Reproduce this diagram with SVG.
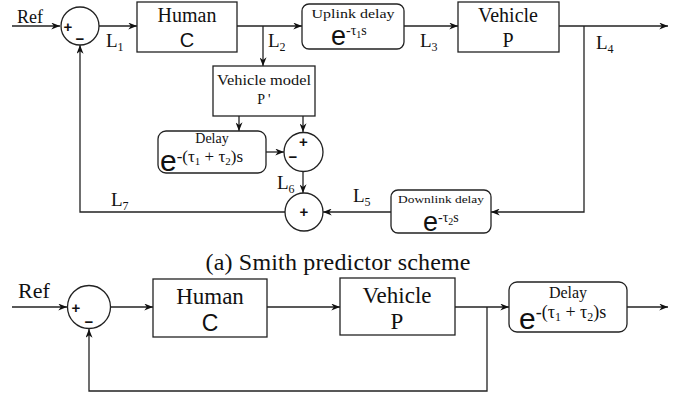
<svg xmlns="http://www.w3.org/2000/svg" width="686" height="396" viewBox="0 0 686 396">
<style>
.box{fill:#fff;stroke:#222;stroke-width:1.3}
.sum{fill:#fff;stroke:#222;stroke-width:1.3}
.ln{fill:none;stroke:#222;stroke-width:1.3;marker-end:url(#ah)}
.t{font-family:"Liberation Serif",serif;fill:#111}
.s{font-family:"Liberation Sans",sans-serif;fill:#111}
.sg{font-family:"Liberation Sans",sans-serif;font-weight:bold;font-size:15px;fill:#111;text-anchor:middle}
.lbl{font-family:"Liberation Serif",serif;font-size:19px;fill:#111}
.mid{text-anchor:middle}
</style>
<defs>
<marker id="ah" viewBox="0 0 10 8" refX="10" refY="4" markerWidth="9" markerHeight="7" markerUnits="userSpaceOnUse" orient="auto">
<path d="M0,0 L10,4 L0,8 L3,4 z" fill="#111"/>
</marker>
</defs>

<g id="connectors">
<path class="ln" d="M12,26 H60"/>
<path class="ln" d="M99,26 H137"/>
<path class="ln" d="M237,26 H302"/>
<path class="ln" d="M263,26 V66"/>
<path class="ln" d="M404,26 H458"/>
<path class="ln" d="M559,26 H668"/>
<path class="ln" d="M584,26 V212 H491"/>
<path class="ln" d="M391,212 H323"/>
<path class="ln" d="M285,212 H80 V45"/>
<path class="ln" d="M239,116 V131"/>
<path class="ln" d="M303,116 V132"/>
<path class="ln" d="M266,152 H284"/>
<path class="ln" d="M303,172 V193"/>
<path class="ln" d="M12,307 H67"/>
<path class="ln" d="M111,307 H153"/>
<path class="ln" d="M267,307 H340"/>
<path class="ln" d="M455,307 H509"/>
<path class="ln" d="M627,307 H668"/>
<path class="ln" d="M487,307 V391 H89 V329"/>
</g>

<g id="labels">
<text class="t" x="17" y="23" font-size="18">Ref</text>
<text class="lbl" x="106" y="47">L<tspan font-size="12" dy="4">1</tspan></text>
<text class="lbl" x="268" y="47">L<tspan font-size="12" dy="4">2</tspan></text>
<text class="lbl" x="420" y="47">L<tspan font-size="12" dy="4">3</tspan></text>
<text class="lbl" x="596" y="49">L<tspan font-size="12" dy="4">4</tspan></text>
<text class="lbl" x="353" y="202">L<tspan font-size="12" dy="4">5</tspan></text>
<text class="lbl" x="277" y="189">L<tspan font-size="12" dy="4">6</tspan></text>
<text class="lbl" x="111" y="206">L<tspan font-size="12" dy="4">7</tspan></text>
<text class="t" x="338" y="270" font-size="24" text-anchor="middle" textLength="265" lengthAdjust="spacing">(a) Smith predictor scheme</text>
<text class="t" x="18" y="298" font-size="22">Ref</text>
</g>

<g id="sum1">
<circle class="sum" cx="80" cy="26" r="19"/>
<text class="sg" x="68" y="32">+</text>
<text class="sg" x="80" y="44">−</text>
</g>

<g id="human">
<rect class="box" x="137" y="2" width="100" height="50"/>
<text class="t mid" x="187" y="22" font-size="20">Human</text>
<text class="s mid" x="187" y="47" font-size="20">C</text>
</g>

<g id="uplink">
<rect class="box" x="302" y="4" width="102" height="45" rx="7"/>
<text class="t mid" x="353" y="18" font-size="13" textLength="83" lengthAdjust="spacingAndGlyphs">Uplink delay</text>
<text class="t" x="331" y="45"><tspan class="s" font-size="27">e</tspan><tspan font-size="14" dy="-10">-τ</tspan><tspan font-size="10" dy="3">1</tspan><tspan font-size="14" dy="-3">s</tspan></text>
</g>

<g id="vehicle">
<rect class="box" x="458" y="2" width="101" height="50"/>
<text class="t mid" x="508" y="22" font-size="20">Vehicle</text>
<text class="t mid" x="508" y="47" font-size="20">P</text>
</g>

<g id="vehicle-model">
<rect class="box" x="213" y="66" width="102" height="50"/>
<text class="t mid" x="264" y="85" font-size="14" textLength="94" lengthAdjust="spacingAndGlyphs">Vehicle model</text>
<text class="t mid" x="264" y="104" font-size="14">P '</text>
</g>

<g id="delay-top">
<rect class="box" x="158" y="131" width="108" height="42" rx="8"/>
<text class="t mid" x="212" y="143" font-size="14">Delay</text>
<text class="t" x="160" y="171"><tspan class="s" font-size="30">e</tspan><tspan font-size="17" dy="-9">-(τ</tspan><tspan font-size="11" dy="3">1</tspan><tspan font-size="17" dy="-3"> + τ</tspan><tspan font-size="11" dy="3">2</tspan><tspan font-size="17" dy="-3">)s</tspan></text>
</g>

<g id="sum2">
<circle class="sum" cx="303.5" cy="152" r="19.5"/>
<text class="sg" x="303.5" y="147">+</text>
<text class="sg" x="293" y="162">−</text>
</g>

<g id="sum3">
<circle class="sum" cx="304" cy="212" r="19"/>
<text class="sg" x="304" y="217">+</text>
</g>

<g id="downlink">
<rect class="box" x="391" y="190" width="100" height="43" rx="7"/>
<text class="t mid" x="441" y="203" font-size="11" textLength="86" lengthAdjust="spacingAndGlyphs">Downlink delay</text>
<text class="t" x="423" y="231"><tspan class="s" font-size="27">e</tspan><tspan font-size="14" dy="-9">-τ</tspan><tspan font-size="10" dy="3">2</tspan><tspan font-size="14" dy="-3">s</tspan></text>
</g>

<g id="sum-b">
<circle class="sum" cx="89" cy="307" r="21.5"/>
<text class="sg" x="76" y="313">+</text>
<text class="sg" x="89" y="327">−</text>
</g>

<g id="human-b">
<rect class="box" x="153" y="279" width="114" height="58"/>
<text class="t mid" x="210" y="304" font-size="23">Human</text>
<text class="s mid" x="210" y="331" font-size="23">C</text>
</g>

<g id="vehicle-b">
<rect class="box" x="340" y="278" width="115" height="57"/>
<text class="t mid" x="397" y="303" font-size="23">Vehicle</text>
<text class="t mid" x="397" y="329" font-size="23">P</text>
</g>

<g id="delay-b">
<rect class="box" x="509" y="282" width="118" height="50" rx="8"/>
<text class="t mid" x="568" y="298" font-size="16">Delay</text>
<text class="t" x="519" y="329"><tspan class="s" font-size="30">e</tspan><tspan font-size="18" dy="-11">-(τ</tspan><tspan font-size="12" dy="3">1</tspan><tspan font-size="18" dy="-3"> + τ</tspan><tspan font-size="12" dy="3">2</tspan><tspan font-size="18" dy="-3">)s</tspan></text>
</g>
</svg>
